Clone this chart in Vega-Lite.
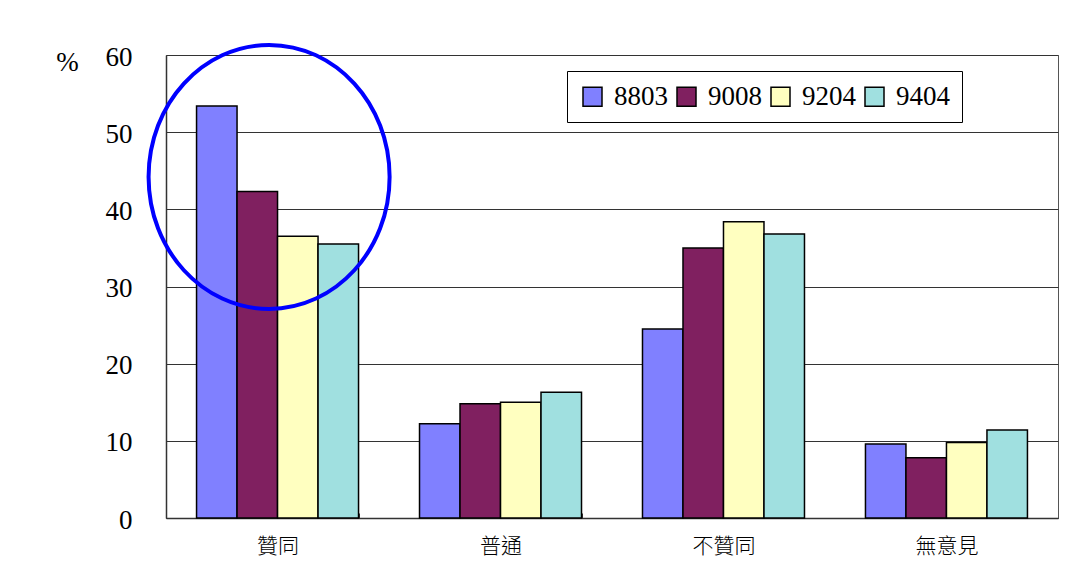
{
  "$schema": "https://vega.github.io/schema/vega-lite/v6.json",
  "autosize": {"type": "none"},
  "padding": {"left": 166, "top": 55, "right": 28, "bottom": 63},
  "width": 892,
  "height": 463,
  "background": "white",
  "config": {
    "view": {"stroke": "#555555", "strokeWidth": 1},
    "font": "Liberation Serif",
    "legend": {"labelFont": "Liberation Serif", "labelFontSize": 27, "labelColor": "black"}
  },
  "layer": [
    {
      "data": {
        "values": [
          {"category": "贊同", "series": "8803", "value": 53.4},
          {"category": "贊同", "series": "9008", "value": 42.3},
          {"category": "贊同", "series": "9204", "value": 36.5},
          {"category": "贊同", "series": "9404", "value": 35.5},
          {"category": "普通", "series": "8803", "value": 12.2},
          {"category": "普通", "series": "9008", "value": 14.8},
          {"category": "普通", "series": "9204", "value": 15.0},
          {"category": "普通", "series": "9404", "value": 16.3},
          {"category": "不贊同", "series": "8803", "value": 24.5},
          {"category": "不贊同", "series": "9008", "value": 35.0},
          {"category": "不贊同", "series": "9204", "value": 38.4},
          {"category": "不贊同", "series": "9404", "value": 36.8},
          {"category": "無意見", "series": "8803", "value": 9.6},
          {"category": "無意見", "series": "9008", "value": 7.8},
          {"category": "無意見", "series": "9204", "value": 9.8},
          {"category": "無意見", "series": "9404", "value": 11.4}
        ]
      },
      "mark": {"type": "bar", "stroke": "black", "strokeWidth": 1.5, "opacity": 1},
      "encoding": {
        "x": {
          "field": "category",
          "type": "nominal",
          "sort": ["贊同", "普通", "不贊同", "無意見"],
          "scale": {"paddingInner": 0.2735, "paddingOuter": 0.137},
          "axis": {
            "title": null,
            "labelAngle": 0,
            "labelFont": "Noto Sans CJK TC",
            "labelFontSize": 21,
            "labelFontWeight": 300,
            "labelColor": "black",
            "labelPadding": 22,
            "labelBaseline": "top",
            "tickBand": "extent",
            "tickSize": -5,
            "tickColor": "#333333",
            "domainColor": "#333333",
            "domainWidth": 1.5,
            "grid": false
          }
        },
        "xOffset": {
          "field": "series",
          "type": "nominal",
          "sort": ["8803", "9008", "9204", "9404"],
          "scale": {"paddingInner": 0, "paddingOuter": 0}
        },
        "y": {
          "field": "value",
          "type": "quantitative",
          "scale": {"domain": [0, 60], "nice": false},
          "axis": {
            "title": "%",
            "titleAngle": 0,
            "titleX": -99,
            "titleY": 7,
            "titleAlign": "center",
            "titleBaseline": "middle",
            "titleFont": "Liberation Serif",
            "titleFontSize": 27,
            "titleFontWeight": "normal",
            "titleColor": "black",
            "values": [0, 10, 20, 30, 40, 50, 60],
            "labelFont": "Liberation Serif",
            "labelFontSize": 27,
            "labelColor": "black",
            "labelPadding": 34,
            "labelOffset": 2,
            "ticks": false,
            "domainColor": "#333333",
            "domainWidth": 1.5,
            "grid": true,
            "gridColor": "#333333",
            "gridWidth": 1
          }
        },
        "color": {
          "field": "series",
          "type": "nominal",
          "sort": ["8803", "9008", "9204", "9404"],
          "scale": {
            "domain": ["8803", "9008", "9204", "9404"],
            "range": ["#8080FF", "#802060", "#FFFFC0", "#A0E0E0"]
          },
          "legend": {
            "title": null,
            "orient": "none",
            "legendX": 401,
            "legendY": 16,
            "direction": "horizontal",
            "strokeColor": "black",
            "fillColor": "white",
            "padding": 12,
            "symbolType": "square",
            "symbolSize": 361,
            "symbolStrokeColor": "black",
            "symbolStrokeWidth": 1.5,
            "symbolOpacity": 1,
            "labelFont": "Liberation Serif",
            "labelFontSize": 27,
            "labelColor": "black",
            "labelOffset": 8,
            "columnPadding": 5,
            "labelLimit": 200
          }
        }
      }
    },
    {
      "data": {"values": [{"category": "贊同", "value": 44.2}]},
      "mark": {
        "type": "point",
        "shape": "M -0.977 0 A 0.913 1 0 1 1 0.849 0 A 0.913 1 0 1 1 -0.977 0 Z",
        "size": 69696,
        "filled": false,
        "stroke": "#0000FF",
        "strokeWidth": 4,
        "opacity": 1
      },
      "encoding": {
        "x": {"field": "category", "type": "nominal", "sort": ["贊同", "普通", "不贊同", "無意見"]},
        "y": {"field": "value", "type": "quantitative"}
      }
    }
  ]
}
